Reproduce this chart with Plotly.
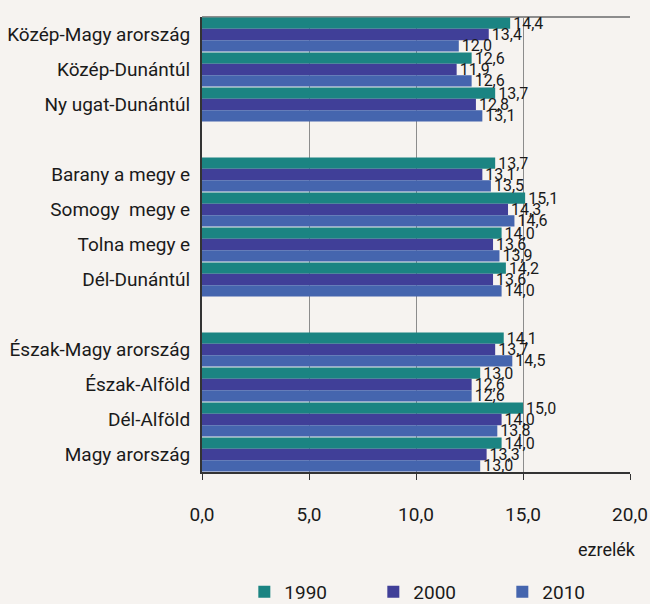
import plotly.graph_objects as go

regions = ["Közép-Magy arország", "Közép-Dunántúl", "Ny ugat-Dunántúl", " ",
           "Barany a megy e", "Somogy\u00a0 megy e", "Tolna megy e", "Dél-Dunántúl", "  ",
           "Észak-Magy arország", "Észak-Alföld", "Dél-Alföld", "Magy arország"]
v1990 = [14.4, 12.6, 13.7, None, 13.7, 15.1, 14.0, 14.2, None, 14.1, 13.0, 15.0, 14.0]
v2000 = [13.4, 11.9, 12.8, None, 13.1, 14.3, 13.6, 13.6, None, 13.7, 12.6, 14.0, 13.3]
v2010 = [12.0, 12.6, 13.1, None, 13.5, 14.6, 13.9, 14.0, None, 14.5, 12.6, 13.8, 13.0]
series = [("1990", v1990, "#1B8482"), ("2000", v2000, "#403F98"), ("2010", v2010, "#4565AE")]
x_ticks = [0, 5, 10, 15, 20]

FONT = "Roboto, Liberation Sans, sans-serif"
BG = "#F6F3F0"

fig = go.Figure()
for name, vals, col in series:
    fig.add_trace(go.Bar(
        y=regions, x=vals, name=name, orientation="h",
        marker=dict(color=col, line=dict(width=0)),
        texttemplate="%{x:.1f}", textposition="outside",
        textfont=dict(family=FONT, size=16, color="#1a1a1a"),
        constraintext="none", cliponaxis=False,
    ))

fig.update_layout(
    width=650, height=604,
    margin=dict(l=202, r=20, t=17, b=132, autoexpand=False),
    paper_bgcolor=BG, plot_bgcolor=BG,
    barmode="group", bargap=0.03, bargroupgap=0,
    separators=", ",
    font=dict(family=FONT, size=19, color="#1a1a1a"),
    showlegend=True,
    legend=dict(orientation="h", x=0.551, xanchor="center",
                y=-0.222, yanchor="top",
                font=dict(family=FONT, size=19), entrywidth=84, entrywidthmode="pixels",
                bgcolor="rgba(0,0,0,0)"),
    annotations=[dict(text="ezrelék", xref="paper", yref="paper", x=1, y=-0.171,
                      xanchor="right", yanchor="middle", xshift=8, showarrow=False,
                      font=dict(family=FONT, size=18, color="#1a1a1a"))],
    shapes=[dict(type="line", xref="paper", yref="paper", x0=0, x1=1, y0=1, y1=1,
                 line=dict(color="#8C8C8C", width=2), layer="below")],
)
fig.update_xaxes(range=[0, 20], tickvals=x_ticks, tickformat=".1f", automargin=False,
                 showgrid=True, gridcolor="#8C8C8C", gridwidth=1,
                 showline=True, linecolor="#333333", linewidth=2,
                 ticks="outside", ticklen=6, tickcolor="#333333",
                 ticklabelstandoff=18, tickfont=dict(size=19), zeroline=False)
fig.update_yaxes(type="category", autorange="reversed", showline=True, automargin=False,
                 linecolor="#333333", linewidth=2, ticks="", ticklabelstandoff=6,
                 tickfont=dict(size=19), showgrid=False)

fig.write_html(
    "out.html",
    config={"displayModeBar": False},
    post_script="document.body.style.margin='0';document.body.style.background='#F6F3F0';",
)
